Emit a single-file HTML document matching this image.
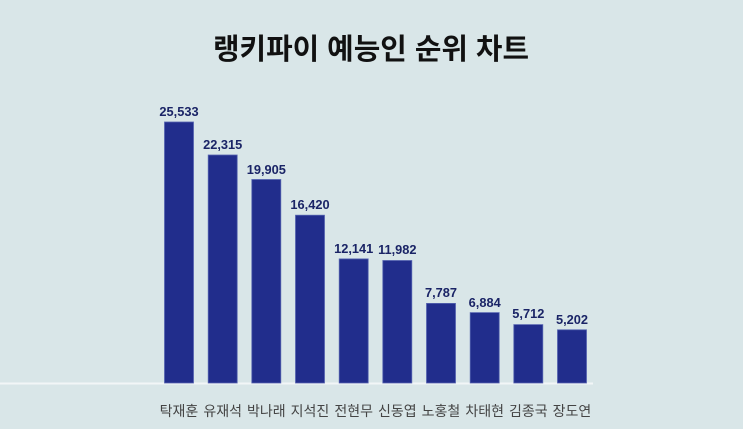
<!DOCTYPE html>
<html><head><meta charset="utf-8"><style>
html,body{margin:0;padding:0;background:#d9e6e8;}
svg{display:block;}
</style></head><body>
<svg width="743" height="429" viewBox="0 0 743 429" xmlns="http://www.w3.org/2000/svg">
<rect width="743" height="429" fill="#d9e6e8"/>
<text x="371" y="59" text-anchor="middle" font-family="'Liberation Sans','Noto Sans CJK KR',sans-serif" font-weight="bold" font-size="29" fill="#111" textLength="316" lengthAdjust="spacingAndGlyphs">랭키파이 예능인 순위 차트</text>
<line x1="0" y1="383.5" x2="593" y2="383.5" stroke="#f2f6f7" stroke-width="2"/>
<g fill="#212d8c" stroke="#5563b0" stroke-width="0.8">
<rect x="164.5" y="122" width="29" height="261"/>
<rect x="208.2" y="155" width="29" height="228"/>
<rect x="251.8" y="179.5" width="29" height="203.5"/>
<rect x="295.5" y="215.2" width="29" height="167.8"/>
<rect x="339.2" y="258.9" width="29" height="124.1"/>
<rect x="382.8" y="260.5" width="29" height="122.5"/>
<rect x="426.5" y="303.4" width="29" height="79.6"/>
<rect x="470.2" y="312.6" width="29" height="70.4"/>
<rect x="513.8" y="324.6" width="29" height="58.4"/>
<rect x="557.5" y="329.8" width="29" height="53.2"/>
</g>
<g font-family="'Liberation Sans',sans-serif" font-weight="bold" font-size="12.8" fill="#1a2466" text-anchor="middle">
<text x="179" y="116">25,533</text>
<text x="222.7" y="149">22,315</text>
<text x="266.3" y="174">19,905</text>
<text x="310" y="209">16,420</text>
<text x="353.7" y="253">12,141</text>
<text x="397.3" y="254">11,982</text>
<text x="441" y="297">7,787</text>
<text x="484.7" y="307">6,884</text>
<text x="528.3" y="318">5,712</text>
<text x="572" y="324">5,202</text>
</g>
<g font-family="'Liberation Sans','Noto Sans CJK KR',sans-serif" font-size="14" fill="#444" text-anchor="middle">
<text x="179" y="416">탁재훈</text>
<text x="222.7" y="416">유재석</text>
<text x="266.3" y="416">박나래</text>
<text x="310" y="416">지석진</text>
<text x="353.7" y="416">전현무</text>
<text x="397.3" y="416">신동엽</text>
<text x="441" y="416">노홍철</text>
<text x="484.7" y="416">차태현</text>
<text x="528.3" y="416">김종국</text>
<text x="572" y="416">장도연</text>
</g>
</svg>
</body></html>
